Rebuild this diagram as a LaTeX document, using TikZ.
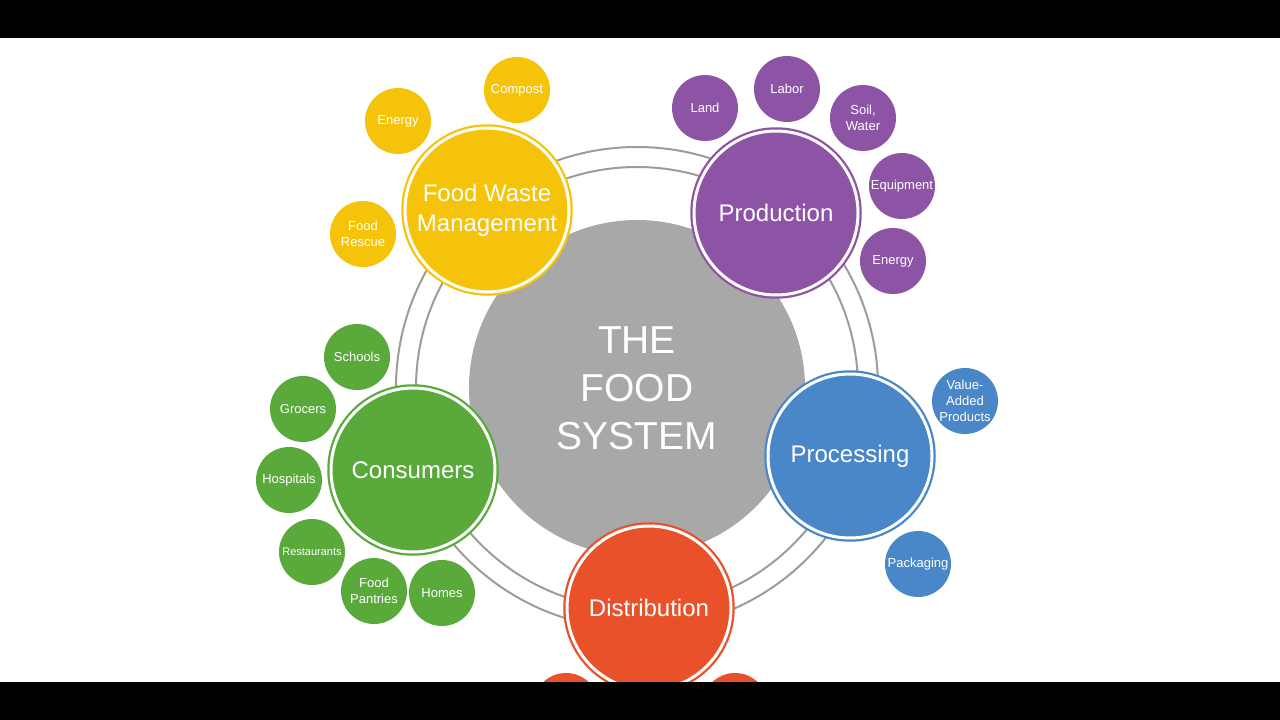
\documentclass[tikz,border=0pt]{standalone}
\usepackage{fontspec}
\setmainfont{Liberation Sans}
\definecolor{wasteyellow}{HTML}{F5C40A}
\definecolor{prodpurple}{HTML}{8D54A5}
\definecolor{procblue}{HTML}{4A87C9}
\definecolor{consgreen}{HTML}{5AAA3B}
\definecolor{distorange}{HTML}{E9512B}
\definecolor{coregray}{HTML}{A8A8A8}
\definecolor{ringgray}{HTML}{9C9C9C}

\begin{document}
\begin{tikzpicture}[x=1pt, y=-1pt,
  hub/.style = {circle, fill=#1, draw=#1, line width=1.5pt, minimum size=170pt, inner sep=0pt,
    text=white, align=center, font=\fontsize{24}{30}\selectfont,
    path picture={\draw[white, line width=3pt] (path picture bounding box.center) circle (82);}},
  leaf/.style = {circle, fill=#1, minimum size=66pt, inner sep=0pt,
    text=white, align=center, font=\fontsize{13}{16}\selectfont}]
\useasboundingbox (0,0) rectangle (1280,720);

%% the food system
\node[circle, fill=coregray, minimum size=336pt, inner sep=0pt, text=white, align=center,
  font=\fontsize{39}{48}\selectfont] (core) at (637,388) {THE\\FOOD\\SYSTEM};
\draw[ringgray, line width=2pt] (core.center) circle (241) (core.center) circle (221);

%%% hubs
\node[hub=wasteyellow] (waste) at (487,210) {Food Waste\\Management};
\node[hub=prodpurple] (prod) at (776,213) {Production};
\node[hub=procblue] (proc) at (850,456) {Processing};
\node[hub=distorange] (dist) at (649,608) {Distribution};
\node[hub=consgreen] (cons) at (413,470) {Consumers};

%%% food waste
\node[leaf=wasteyellow] (compost) at (517,90) {Compost};
\node[leaf=wasteyellow] (wenergy) at (398,121) {Energy};
\node[leaf=wasteyellow] (rescue) at (363,234) {Food\\Rescue};

%%% production
\node[leaf=prodpurple] (land) at (705,108) {Land};
\node[leaf=prodpurple] (labor) at (787,89) {Labor};
\node[leaf=prodpurple] (soil) at (863,118) {Soil,\\Water};
\node[leaf=prodpurple] (equip) at (902,186) {Equipment};
\node[leaf=prodpurple] (penergy) at (893,261) {Energy};

%%% processing
\node[leaf=procblue] (value) at (965,401) {Value-\\Added\\Products};
\node[leaf=procblue] (pack) at (918,564) {Packaging};

%%% consumers
\node[leaf=consgreen] (schools) at (357,357) {Schools};
\node[leaf=consgreen] (grocers) at (303,409) {Grocers};
\node[leaf=consgreen] (hosp) at (289,480) {Hospitals};
\node[leaf=consgreen, font=\fontsize{11}{13}\selectfont] (rest) at (312,552) {Restaurants};
\node[leaf=consgreen] (pantry) at (374,591) {Food\\Pantries};
\node[leaf=consgreen] (homes) at (442,593) {Homes};

%%% distribution (cut off)
\node[leaf=distorange] (dleft) at (566,706) {};
\node[leaf=distorange] (dright) at (735,706) {};

%% black bars
\fill[black] (0,0) rectangle (1280,38);
\fill[black] (0,682) rectangle (1280,720);
\end{tikzpicture}
\end{document}
